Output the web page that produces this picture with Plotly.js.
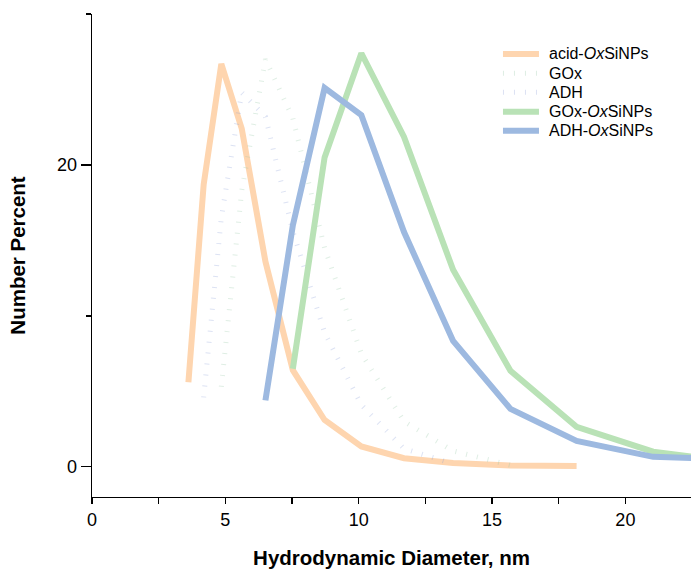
<!DOCTYPE html>
<html>
<head>
<meta charset="utf-8">
<script src="https://cdn.plot.ly/plotly-3.0.1.min.js"></script>
<style>
html,body{margin:0;padding:0;background:#fff;overflow:hidden;}
#chart{width:691px;height:569px;}
</style>
</head>
<body>
<div id="chart"></div>
<script>
// Hydrodynamic diameter bins (nm)
const xAcid = [3.615, 4.187, 4.849, 5.615, 6.503, 7.531, 8.721, 10.1, 11.7, 13.54, 15.69, 18.17];
const yAcid = [5.6, 18.7, 26.7, 22.4, 13.6, 6.4, 3.1, 1.35, 0.57, 0.25, 0.08, 0.05];

const xGOx = [4.849, 5.615, 6.503, 7.531, 8.721, 10.1, 11.7, 13.54, 15.69];
const yGOx = [5.3, 18.3, 27.0, 23.1, 14.5, 7.5, 3.0, 1.05, 0.1];

const xADH = [4.187, 4.849, 5.615, 6.503, 7.531, 8.721, 10.1, 11.7, 13.54];
const yADH = [4.6, 16.5, 24.8, 23.2, 15.6, 8.9, 4.1, 1.2, 0.2];

const xGOxNP = [7.531, 8.721, 10.1, 11.7, 13.54, 15.69, 18.17, 21.04, 24.36];
const yGOxNP = [6.5, 20.5, 27.4, 21.85, 13.05, 6.36, 2.65, 1.0, 0.25];

const xADHNP = [6.503, 7.531, 8.721, 10.1, 11.7, 13.54, 15.69, 18.17, 21.04, 24.36];
const yADHNP = [4.4, 16.0, 25.1, 23.3, 15.55, 8.34, 3.84, 1.72, 0.66, 0.5];

const names = ['acid-<i>Ox</i>SiNPs', 'GOx', 'ADH', 'GOx-<i>Ox</i>SiNPs', 'ADH-<i>Ox</i>SiNPs'];
const colors = ['#FED5AF', 'rgba(150,200,165,0.3)', 'rgba(140,160,215,0.3)', '#B9E2B6', '#9DB9E0'];
const widths = [6, 5, 5, 6, 6];
const dashes = ['solid', '1px,10px', '1px,10px', 'solid', 'solid'];

const xTickVals = [0, 5, 10, 15, 20];
const xTickText = ['0', '5', '10', '15', '20'];
const yTickVals = [0, 20];
const yTickText = ['0', '20'];

const xRange = [0, 22.46];
const yRange = [-2, 30];

const xs = [xAcid, xGOx, xADH, xGOxNP, xADHNP];
const ys = [yAcid, yGOx, yADH, yGOxNP, yADHNP];

const traces = xs.map((x, i) => ({
  x: x, y: ys[i], name: names[i], mode: 'lines', showlegend: false,
  line: {color: colors[i], width: widths[i], dash: dashes[i]}
}));

// custom legend (paper coordinates)
const legX0 = 0.6861, legX1 = 0.7462, legTextX = 0.7600;
const legY = [0.9172, 0.8772, 0.8379, 0.7977, 0.7584];
const shapes = [];
const annotations = [];
names.forEach((n, i) => {
  shapes.push({type: 'line', xref: 'paper', yref: 'paper', x0: legX0, x1: legX1, y0: legY[i], y1: legY[i],
    line: {color: colors[i], width: widths[i], dash: dashes[i]}});
  annotations.push({xref: 'paper', yref: 'paper', x: legTextX, y: legY[i], xanchor: 'left', yanchor: 'middle',
    text: n, showarrow: false, font: {size: 16, color: '#000'}});
});

const axFont = {family: 'Liberation Sans, Arial, sans-serif', size: 18, color: '#000'};

const layout = {
  width: 691, height: 569,
  margin: {l: 92, r: 0, t: 14, b: 72},
  paper_bgcolor: '#fff', plot_bgcolor: '#fff',
  font: {family: 'Liberation Sans, Arial, sans-serif', color: '#000'},
  showlegend: false,
  shapes: shapes,
  annotations: annotations,
  xaxis: {
    range: xRange, showgrid: false, zeroline: false,
    showline: true, linecolor: '#000', linewidth: 1.3,
    ticks: 'outside', ticklen: 6, tickwidth: 1.3, tickcolor: '#000',
    tickmode: 'array', tickvals: xTickVals, ticktext: xTickText,
    minor: {dtick: 2.5, ticks: 'outside', ticklen: 6, tickwidth: 1.3, tickcolor: '#000'},
    tickfont: axFont,
    title: {text: '<b>Hydrodynamic Diameter, nm</b>', font: {size: 20.5, color: '#000'}, standoff: 21}
  },
  xaxis2: {
    range: xRange, overlaying: 'x', side: 'top', showgrid: false, zeroline: false,
    showline: true, linecolor: '#000', linewidth: 1.3,
    ticks: 'inside', ticklen: 8, tickwidth: 1.3, tickcolor: '#000',
    tickmode: 'array', tickvals: xTickVals, showticklabels: false,
    minor: {dtick: 2.5, ticks: 'inside', ticklen: 4, tickwidth: 1.3, tickcolor: '#000'}
  },
  yaxis: {
    range: yRange, showgrid: false, zeroline: false,
    showline: true, linecolor: '#000', linewidth: 1.3,
    ticks: 'outside', ticklen: 10, tickwidth: 1.3, tickcolor: '#000',
    tickmode: 'array', tickvals: yTickVals, ticktext: yTickText,
    minor: {dtick: 10, ticks: 'outside', ticklen: 5, tickwidth: 1.3, tickcolor: '#000'},
    tickfont: axFont,
    title: {text: '<b>Number Percent</b>', font: {size: 20.5, color: '#000'}, standoff: 26}
  },
  yaxis2: {
    range: yRange, overlaying: 'y', side: 'right', showgrid: false, zeroline: false,
    showline: false,
    ticks: 'inside', ticklen: 8, tickwidth: 1.3, tickcolor: '#000',
    tickmode: 'array', tickvals: yTickVals, showticklabels: false,
    minor: {dtick: 10, ticks: 'inside', ticklen: 3, tickwidth: 1.3, tickcolor: '#000'}
  }
};

Plotly.newPlot('chart', traces, layout, {displayModeBar: false, staticPlot: true});
</script>
</body>
</html>
